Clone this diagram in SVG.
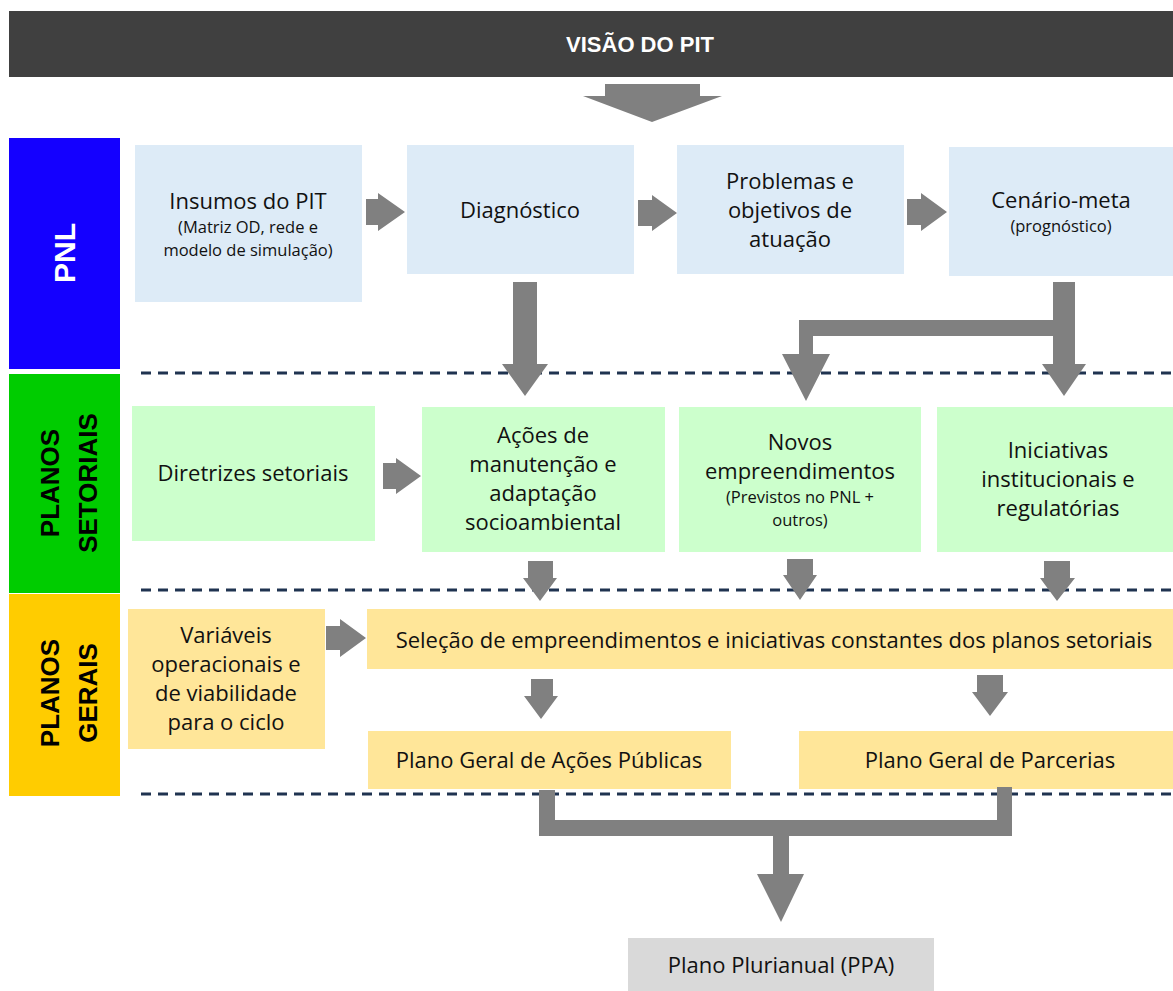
<svg xmlns="http://www.w3.org/2000/svg" width="1173" height="991" viewBox="0 0 1173 991">
<style>
.t{font-family:"Open Sans","Liberation Sans",sans-serif;font-size:22px;fill:#111;text-anchor:middle}
.s{font-size:16.5px}
.side{font-family:"Liberation Sans",Arial,sans-serif;font-weight:bold;font-size:26px;text-anchor:middle}
.arr{fill:#808080}
.dash{stroke:#1F3350;stroke-width:3;stroke-dasharray:10 7;fill:none}
.blue{fill:#DDEBF7}.green{fill:#CCFFCC}.yel{fill:#FFE699}
</style>
<rect width="1173" height="991" fill="#fff"/>
<g id="header">
<rect x="9" y="11" width="1164" height="66" fill="#404040"/>
<text x="640" y="52" style="font-family:'Liberation Sans',Arial,sans-serif;font-weight:bold;font-size:22px;fill:#fff;text-anchor:middle">VISÃO DO PIT</text>
</g>
<g id="lane-pnl">
<rect x="9" y="138" width="111" height="231" fill="#1400FF"/>
<text class="side" transform="translate(75,253) rotate(-90)" style="font-size:30px;fill:#fff">PNL</text>
</g>
<g id="lane-setoriais">
<rect x="9" y="374" width="111" height="219" fill="#00CC00"/>
<text class="side" transform="translate(59,483) rotate(-90)">PLANOS</text>
<text class="side" transform="translate(97,483) rotate(-90)">SETORIAIS</text>
</g>
<g id="lane-gerais">
<rect x="9" y="594" width="111" height="202" fill="#FFCC00"/>
<text class="side" transform="translate(59,693) rotate(-90)">PLANOS</text>
<text class="side" transform="translate(97,693) rotate(-90)">GERAIS</text>
</g>
<g id="dividers">
<line class="dash" x1="141" y1="373" x2="1173" y2="373"/>
<line class="dash" x1="141" y1="590" x2="1173" y2="590"/>
<line class="dash" x1="141" y1="794" x2="1173" y2="794"/>
</g>
<g id="insumos">
<rect class="blue" x="135" y="145" width="227" height="157"/>
<text class="t" x="248" y="209">Insumos do PIT</text>
<text class="t s" x="248" y="233">(Matriz OD, rede e</text>
<text class="t s" x="248" y="256">modelo de simulação)</text>
</g>
<g id="diagnostico">
<rect class="blue" x="407" y="145" width="227" height="129"/>
<text class="t" x="520" y="218">Diagnóstico</text>
</g>
<g id="problemas">
<rect class="blue" x="677" y="145" width="227" height="129"/>
<text class="t" x="790" y="189">Problemas e</text>
<text class="t" x="790" y="218">objetivos de</text>
<text class="t" x="790" y="247">atuação</text>
</g>
<g id="cenario">
<rect class="blue" x="949" y="147" width="224" height="129"/>
<text class="t" x="1061" y="208">Cenário-meta</text>
<text class="t s" x="1061" y="232">(prognóstico)</text>
</g>
<g id="diretrizes">
<rect class="green" x="132" y="406" width="243" height="135"/>
<text class="t" x="253" y="481">Diretrizes setoriais</text>
</g>
<g id="acoes">
<rect class="green" x="422" y="407" width="243" height="145"/>
<text class="t" x="543" y="443">Ações de</text>
<text class="t" x="543" y="472">manutenção e</text>
<text class="t" x="543" y="501">adaptação</text>
<text class="t" x="543" y="530">socioambiental</text>
</g>
<g id="novos">
<rect class="green" x="679" y="407" width="242" height="145"/>
<text class="t" x="800" y="450">Novos</text>
<text class="t" x="800" y="479">empreendimentos</text>
<text class="t s" x="800" y="503">(Previstos no PNL +</text>
<text class="t s" x="800" y="526">outros)</text>
</g>
<g id="iniciativas">
<rect class="green" x="937" y="407" width="236" height="145"/>
<text class="t" x="1058" y="458">Iniciativas</text>
<text class="t" x="1058" y="487">institucionais e</text>
<text class="t" x="1058" y="516">regulatórias</text>
</g>
<g id="variaveis">
<rect class="yel" x="128" y="609" width="197" height="140"/>
<text class="t" x="226" y="643">Variáveis</text>
<text class="t" x="226" y="672">operacionais e</text>
<text class="t" x="226" y="701">de viabilidade</text>
<text class="t" x="226" y="730">para o ciclo</text>
</g>
<g id="selecao">
<rect class="yel" x="367" y="609" width="806" height="60"/>
<text class="t" x="774" y="648">Seleção de empreendimentos e iniciativas constantes dos planos setoriais</text>
</g>
<g id="acoes-publicas">
<rect class="yel" x="368" y="731" width="363" height="58"/>
<text class="t" x="549" y="768">Plano Geral de Ações Públicas</text>
</g>
<g id="parcerias">
<rect class="yel" x="799" y="731" width="374" height="58"/>
<text class="t" x="990" y="768">Plano Geral de Parcerias</text>
</g>
<g id="ppa">
<rect x="628" y="938" width="306" height="53" fill="#D9D9D9"/>
<text class="t" x="781" y="973">Plano Plurianual (PPA)</text>
</g>
<g id="connectors">
<polygon class="arr" points="605,84 700,84 700,96 722,96 652,122 583,96 605,96"/>
<polygon class="arr" points="366,199 378,199 378,193 405,212 378,231 378,225 366,225"/>
<polygon class="arr" points="638,200 652,200 652,195 677,213 652,231 652,226 638,226"/>
<polygon class="arr" points="907,199 921,199 921,193 947,212 921,231 921,225 907,225"/>
<polygon class="arr" points="513,282 537,282 537,364 548,364 525,396 502,364 513,364"/>
<polygon class="arr" points="1053,282 1075,282 1075,364 1086,364 1064,396 1042,364 1053,364 1053,336 813,336 813,354 830,354 806,401 782,354 799,354 799,320 1053,320"/>
<polygon class="arr" points="383,463 396,463 396,458 421,476 396,494 396,489 383,489"/>
<polygon class="arr" points="528,561 553,561 553,578 557,578 540,601 523,578 528,578"/>
<polygon class="arr" points="787,559 813,559 813,575 817,575 800,600 783,575 787,575"/>
<polygon class="arr" points="1044,561 1070,561 1070,578 1075,578 1057,601 1040,578 1044,578"/>
<polygon class="arr" points="326,626 340,626 340,619 366,638 340,657 340,650 326,650"/>
<polygon class="arr" points="531,679 553,679 553,696 558,696 541,719 524,696 531,696"/>
<polygon class="arr" points="977,675 1003,675 1003,692 1008,692 990,716 972,692 977,692"/>
<polygon class="arr" points="539,790 555,790 555,820 997,820 997,787 1012,787 1012,836 789,836 789,874 804,874 781,922 757,874 773,874 773,836 539,836"/>
</g>
</svg>
